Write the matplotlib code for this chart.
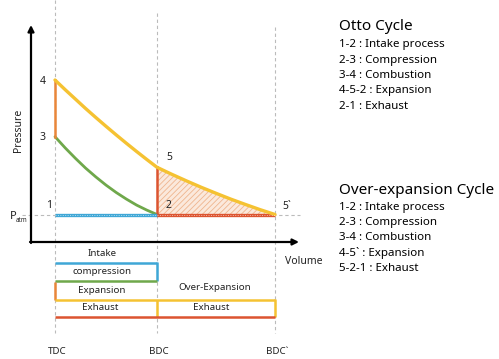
import matplotlib
matplotlib.use("Agg")
import matplotlib.pyplot as plt
from matplotlib.transforms import blended_transform_factory

plt.rcParams['font.family'] = ['Noto Sans', 'DejaVu Sans']
plt.rcParams['hatch.linewidth'] = 0.6

# ---------------- data (V: TDC=0, BDC=1, BDC`=2.157 ; P: P_atm = 1) ----------------
V_TDC, V_BDC, V_BDC2 = 0.0, 1.0, 2.157
P_ATM = 1.0
P3, P4, P5 = 4.89, 7.725, 3.36

# expansion curve 4 -> 5 -> 5`
exp_V = [0.0, 0.1, 0.2, 0.3, 0.4, 0.5, 0.6, 0.7, 0.8, 0.9, 1.0,
         1.145, 1.289, 1.434, 1.579, 1.723, 1.868, 2.012, 2.157]
exp_P = [7.725, 7.24, 6.77, 6.30, 5.85, 5.41, 4.98, 4.56, 4.15, 3.75, 3.36,
         3.01, 2.68, 2.36, 2.06, 1.77, 1.50, 1.24, 1.0]

# compression curve 2 -> 3 (drawn from 3 to 2)
comp_V = [0.0, 0.1, 0.2, 0.3, 0.4, 0.5, 0.6, 0.7, 0.8, 0.9, 1.0]
comp_P = [4.89, 4.33, 3.81, 3.32, 2.88, 2.47, 2.10, 1.77, 1.47, 1.22, 1.0]

point_labels = ['1', '2', '3', '4', '5', '5`']
position_labels = ['TDC', 'BDC', 'BDC`']

otto_title = 'Otto Cycle'
otto_lines = ['1-2 : Intake process', '2-3 : Compression', '3-4 : Combustion',
              '4-5-2 : Expansion', '2-1 : Exhaust']
over_title = 'Over-expansion Cycle'
over_lines = ['1-2 : Intake process', '2-3 : Compression', '3-4 : Combustion',
              '4-5` : Expansion', '5-2-1 : Exhaust']

# ---------------- colours ----------------
C_YEL = '#F5C232'
C_GRN = '#6FA84B'
C_ORG = '#E9863A'
C_BLU = '#3FA7D6'
C_RED = '#DC5430'
C_TXT = '#222222'

W, H = 499, 359
fig = plt.figure(figsize=(W / 100, H / 100), dpi=100)
ax = fig.add_axes([0, 0, 1, 1])
# map pixels -> data: V = (x-55)/102 ; P = 1 + (214.5-y)/20
ax.set_xlim((0 - 55) / 102, (W - 55) / 102)
ax.set_ylim(1 + (214.5 - H) / 20, 1 + 214.5 / 20)
ax.axis('off')

def fy(y):  # pixel y -> figure fraction
    return 1 - y / H

def fx(x):
    return x / W

tf = fig.transFigure
bx = blended_transform_factory(ax.transData, tf)   # x in data, y in figure
by = blended_transform_factory(tf, ax.transData)   # x in figure, y in data

# dashed guides
for v, ytop in [(V_TDC, 0), (V_BDC, 13), (V_BDC2, 27)]:
    ax.plot([v, v], [fy(ytop), fy(333)], transform=bx, color='#BBBBBB',
            lw=0.8, ls=(0, (3, 2.5)), zorder=1)
ax.plot([fx(22), fx(300)], [P_ATM, P_ATM], transform=by, color='#BBBBBB',
        lw=0.8, ls=(0, (3, 2.5)), zorder=1)

# hatched over-expansion area
i0 = exp_V.index(1.0)
ax.fill_between(exp_V[i0:], [P_ATM] * len(exp_V[i0:]), exp_P[i0:],
                facecolor='#FBE9DC', edgecolor='#EFB58E', hatch='//////',
                lw=0, zorder=2)

# cycle lines
ax.plot([V_TDC, V_BDC], [P_ATM, P_ATM], color=C_BLU, lw=2.4, zorder=4,
        solid_capstyle='butt')
ax.plot([V_TDC, V_BDC], [P_ATM, P_ATM], color='white', lw=0.7, alpha=0.6,
        ls=(0, (1, 1.5)), zorder=5)
ax.plot([V_BDC, V_BDC2], [P_ATM, P_ATM], color=C_RED, lw=2.4, zorder=4,
        solid_capstyle='butt')
ax.plot([V_BDC, V_BDC2], [P_ATM, P_ATM], color='white', lw=0.7, alpha=0.6,
        ls=(0, (1, 1.5)), zorder=5)
ax.plot(comp_V, comp_P, color=C_GRN, lw=2.0, zorder=3, solid_capstyle='round')
ax.plot([V_TDC, V_TDC], [P3, P4], color=C_ORG, lw=1.8, zorder=3)
ax.plot([V_BDC, V_BDC], [P_ATM, P5], color=C_RED, lw=1.8, zorder=3)
ax.plot(exp_V, exp_P, color=C_YEL, lw=2.4, zorder=4, solid_capstyle='round')

# axes arrows
ax.annotate('', xy=(fx(31), fy(25)), xytext=(fx(31), fy(243)),
            xycoords=tf, textcoords=tf,
            arrowprops=dict(arrowstyle='-|>', color='black', lw=1.6,
                            mutation_scale=9, shrinkA=0, shrinkB=0))
ax.annotate('', xy=(fx(299), fy(242)), xytext=(fx(30), fy(242)),
            xycoords=tf, textcoords=tf,
            arrowprops=dict(arrowstyle='-|>', color='black', lw=1.6,
                            mutation_scale=9, shrinkA=0, shrinkB=0))

# point labels
fs_pt = 7.5
pts = [(49, 206), (169, 206), (43, 138), (43, 81), (169, 157), (287, 207)]
for lab, (x, y) in zip(point_labels, pts):
    ax.text(fx(x), fy(y), lab, transform=tf, ha='center', va='center',
            fontsize=fs_pt, color=C_TXT)

ax.text(fx(19), fy(130), 'Pressure', transform=tf, rotation=90, ha='center',
        va='center', fontsize=7.5, color=C_TXT)
ax.text(fx(13), fy(216.5), 'P', transform=tf, ha='center', va='center',
        fontsize=8, color=C_TXT)
ax.text(fx(22), fy(221), 'atm', transform=tf, ha='center', va='center',
        fontsize=4.5, color=C_TXT)
ax.text(fx(304), fy(261), 'Volume', transform=tf, ha='center', va='center',
        fontsize=7.5, color=C_TXT)

# stroke bars below
def seg(x0, y0, x1, y1, c):
    ax.plot([x0, x1], [fy(y0), fy(y1)], transform=bx, color=c, lw=1.8,
            solid_capstyle='butt', zorder=3)

seg(V_TDC, 263, V_BDC, 263, C_BLU)
seg(V_BDC, 262.3, V_BDC, 281, C_BLU)
seg(V_TDC, 281, V_BDC, 281, C_GRN)
seg(V_TDC, 282, V_TDC, 299.5, C_ORG)
seg(V_TDC, 299.5, V_BDC2, 299.5, C_YEL)
seg(V_BDC, 299.5, V_BDC, 317, C_YEL)
seg(V_BDC2, 298.8, V_BDC2, 317, C_YEL)
seg(V_TDC, 317, V_BDC2, 317, C_RED)

fs_bar = 7
bar_texts = [('Intake', 0.46, 254), ('compression', 0.46, 272),
             ('Expansion', 0.46, 290.5), ('Exhaust', 0.44, 308),
             ('Over-Expansion', 1.57, 288), ('Exhaust', 1.53, 308)]
for t, v, y in bar_texts:
    ax.text(v, fy(y), t, transform=bx, ha='center', va='center',
            fontsize=fs_bar, color=C_TXT)

for lab, v in zip(position_labels, [V_TDC, V_BDC, V_BDC2]):
    ax.text(v + 0.02, fy(352), lab, transform=bx, ha='center', va='center',
            fontsize=7, color=C_TXT)

# right-hand text blocks
def block(title, lines, ytitle, ylines):
    ax.text(fx(339), fy(ytitle), title, transform=tf, ha='left', va='center',
            fontsize=11, color='black')
    for t, y in zip(lines, ylines):
        ax.text(fx(339), fy(y), t, transform=tf, ha='left', va='center',
                fontsize=8.3, color='black')

block(otto_title, otto_lines, 27, [45, 60.5, 76, 91, 106.5])
block(over_title, over_lines, 190.5, [207.5, 222.7, 238, 253.3, 268.7])

fig.savefig('out.png', dpi=100)
